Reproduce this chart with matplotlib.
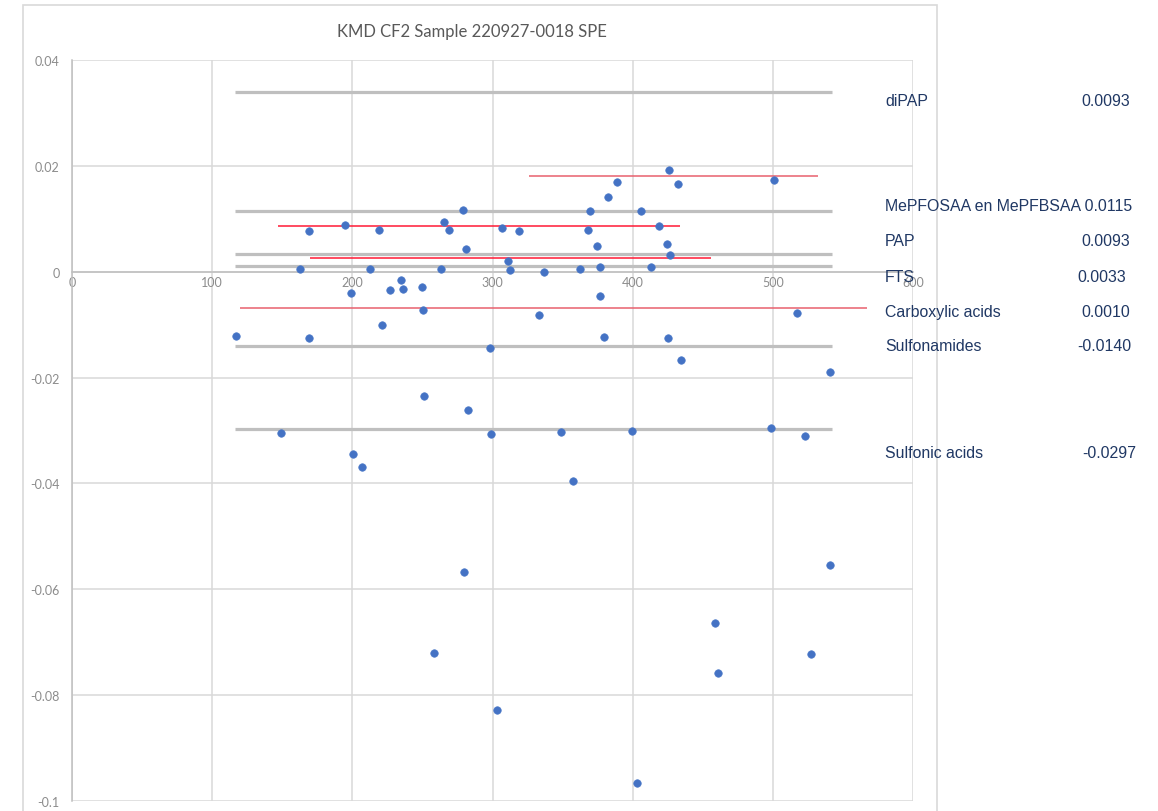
import numpy as np
import matplotlib
matplotlib.use("Agg")
import matplotlib.pyplot as plt
from matplotlib.patches import Rectangle

# mass vs KMD points
mass = [168.8, 194.8, 218.8, 162.9, 212.8, 199.0, 265.1, 269.1, 278.9, 281.0,
        263.2, 306.7, 319.0, 311.4, 312.6, 336.6, 362.5, 376.7, 369.4, 368.4,
        374.3, 382.7, 388.6, 405.9, 418.8, 424.7, 426.6, 412.8, 425.7, 432.5,
        500.5, 234.7, 227.1, 235.9, 249.6, 250.5, 333.0, 377.0, 516.9, 116.8,
        168.8, 220.9, 379.5, 425.0, 298.1, 434.8, 541.0, 251.4, 282.5, 149.1,
        299.0, 349.0, 399.3, 498.8, 523.3, 200.7, 207.1, 357.1, 279.9, 540.7,
        459.0, 258.3, 526.9, 460.9, 303.1, 403.1]
kmd = [0.0077, 0.0088, 0.0079, 0.0006, 0.0006, -0.0041, 0.0093, 0.0079, 0.0117, 0.0042,
       0.0006, 0.0083, 0.0076, 0.0021, 0.0004, -0.0001, 0.0006, 0.0008, 0.0114, 0.0079,
       0.0048, 0.0142, 0.0169, 0.0114, 0.0086, 0.0053, 0.0031, 0.0008, 0.0192, 0.0165,
       0.0173, -0.0016, -0.0034, -0.0033, -0.0029, -0.0073, -0.0081, -0.0046, -0.0078, -0.0122,
       -0.0125, -0.0100, -0.0124, -0.0125, -0.0145, -0.0166, -0.0190, -0.0234, -0.0262, -0.0304,
       -0.0306, -0.0302, -0.0301, -0.0295, -0.0310, -0.0344, -0.0369, -0.0396, -0.0567, -0.0554,
       -0.0663, -0.0720, -0.0722, -0.0758, -0.0828, -0.0966]

# class reference levels (grey)
class_levels = [0.0340, 0.0115, 0.0033, 0.0010, -0.0140, -0.0297]
class_xmin, class_xmax = 116.3, 542.0

# red reference segments
red_y = [0.0181, 0.0086, 0.0026, -0.0068]
red_x0 = [326, 147, 170, 120]
red_x1 = [532, 434, 456, 567]
red_col = ['#e8606e', '#ff1a36', '#ff1a36', '#e8606e']

# side labels
names = ['diPAP', 'MePFOSAA en MePFBSAA', 'PAP', 'FTS', 'Carboxylic acids',
         'Sulfonamides', 'Sulfonic acids']
values = ['0.0093', '0.0115', '0.0093', '0.0033', '0.0010', '-0.0140', '-0.0297']

fig = plt.figure(figsize=(11.58, 8.12), dpi=100)
W, H = 1158, 812

# chart frame
fig.patches.append(Rectangle((23 / W, -0.1), (937 - 23) / W, 1.1 - 6 / H,
                             transform=fig.transFigure, fill=False,
                             edgecolor='#d9d9d9', linewidth=1.2))

ax = fig.add_axes([72 / W, 1 - 802 / H, (913 - 72) / W, (802 - 61) / H])
ax.set_xlim(0, 600)
ax.set_ylim(-0.1, 0.04)
ax.set_xticks(np.arange(0, 601, 100))
ax.set_yticks(np.arange(-0.1, 0.041, 0.02))
ax.set_yticklabels(['-0.1', '-0.08', '-0.06', '-0.04', '-0.02', '0', '0.02', '0.04'])
ax.grid(True, color='#d9d9d9', linewidth=1.1)
ax.set_axisbelow(True)
for s in ['top', 'right']:
    ax.spines[s].set_visible(False)
ax.spines['bottom'].set_position(('data', 0))
ax.spines['bottom'].set_color('#bfbfbf')
ax.spines['left'].set_color('#bfbfbf')
ax.spines['bottom'].set_linewidth(1.1)
ax.spines['left'].set_linewidth(1.1)
ax.tick_params(length=0, labelsize=9, labelcolor='#8c8c8c')
ax.tick_params(axis='y', pad=9)
ax.tick_params(axis='x', pad=3)
for lab in ax.get_xticklabels() + ax.get_yticklabels():
    lab.set_family('Lato')

ax.hlines(class_levels, class_xmin, class_xmax, color='#bfbfbf', linewidth=2.3, zorder=2)
for y, x0, x1, c in zip(red_y, red_x0, red_x1, red_col):
    ax.hlines(y, x0, x1, color=c, linewidth=1.1, zorder=2)
ax.plot(mass, kmd, 'o', color='#4472c4', markersize=5.4, markeredgecolor='#4a78c8',
        markeredgewidth=0.5, zorder=3)

fig.text(472 / W, 1 - 32 / H, 'KMD CF2 Sample 220927-0018 SPE', ha='center', va='center',
         fontsize=12, color='#595959', family='Lato')

# labels placed to the right of the plot
name_y = [101.7, 206.7, 241.7, 277.3, 312.3, 346.7, 453.3]
val_x = [1081, 1088, 1081, 1077, 1081, 1077, 1082]
for i, (n, v) in enumerate(zip(names, values)):
    if i == 1:
        fig.text(885 / W, 1 - name_y[i] / H, n + ' ' + v, ha='left', va='center',
                 fontsize=11.4, color='#203864', family='Liberation Sans')
    else:
        fig.text(885 / W, 1 - name_y[i] / H, n, ha='left', va='center',
                 fontsize=11.4, color='#203864', family='Liberation Sans')
        fig.text(val_x[i] / W, 1 - name_y[i] / H, v, ha='left', va='center',
                 fontsize=11.4, color='#203864', family='Liberation Sans')

fig.savefig('out.png', dpi=100)
